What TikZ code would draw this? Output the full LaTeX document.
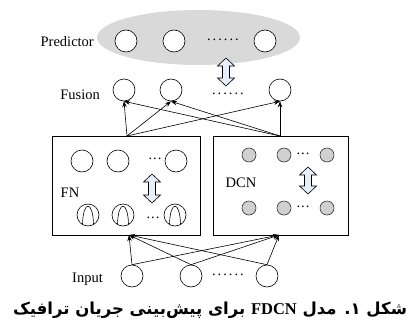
\documentclass[tikz,border=0pt]{standalone}
\usepackage{fontspec}
\setmainfont{Liberation Serif}
\newfontfamily\arabicfont[Script=Arabic]{DejaVu Sans}
\TeXXeTstate=1
\usetikzlibrary{arrows.meta}
\definecolor{ellgray}{HTML}{D9D9D9}
\definecolor{dotgray}{HTML}{D0D0D0}
\definecolor{arrblue}{HTML}{E6EFFA}
\tikzset{
  neuron/.style={circle,draw=black,line width=0.6pt,minimum size=22pt,inner sep=0pt,fill=white},
  smallneuron/.style={circle,draw=black!80,line width=0.6pt,minimum size=14pt,inner sep=0pt,fill=dotgray},
  lbl/.style={font=\fontsize{14.5}{16}\selectfont,inner sep=0pt},
  dotrow/.style={font=\fontsize{14.5}{16}\selectfont,inner sep=0pt},
  dblarrow/.style={draw=black,line width=0.6pt,fill=arrblue,line join=miter},
  conn/.style={line width=0.6pt,-{Stealth[length=6pt,width=4.5pt]}},
  box/.style={draw=black,line width=0.8pt},
}
\newcommand{\sixdots}{.\kern2pt.\kern2pt.\kern2pt.\kern2pt.\kern2pt.}
% vertical hollow double arrow: centre x, top y, bottom y
\newcommand{\vdblarrow}[3]{%
  \draw[dblarrow] (#1,#2) -- ++(8.5,8) -- ++(-5,0) -- (#1+3.5,#3-8) -- ++(5,0)
    -- (#1,#3) -- ++(-8.5,-8) -- ++(5,0) -- (#1-3.5,#2+8) -- ++(-5,0) -- cycle;}
\begin{document}
\begin{tikzpicture}[x=1pt,y=-1pt]
\useasboundingbox (0,0) rectangle (419,324);
% predictor ellipse
\fill[ellgray] (198.5,37.5) ellipse[x radius=101.5,y radius=27.5];
\node[lbl,anchor=east] (plab) at (94,42) {Predictor};
\node[neuron] (p1) at (126,41) {};
\node[neuron] (p2) at (174,41) {};
\node[dotrow] (pd) at (223,40) {\sixdots};
\node[neuron] (p3) at (265,41) {};
\vdblarrow{226}{58}{86}
% fusion
\node[lbl,anchor=east] (flab) at (100,95) {Fusion};
\node[neuron] (f1) at (124,90) {};
\node[neuron] (f2) at (171,90) {};
\node[dotrow] (fd) at (228,94) {\sixdots};
\node[neuron] (f3) at (280,90) {};
% boxes
\draw[box] (52,136) rectangle (200,235);
\draw[box] (213,136) rectangle (348,235);
\coordinate (fntop) at (127,136);
\coordinate (dcntop) at (280,136);
\coordinate (fnbot) at (129,235);
\coordinate (dcnbot) at (279,235);
% FN contents
\node[neuron] (n1) at (82,161) {};
\node[neuron] (n2) at (118,161) {};
\node[dotrow] (nd) at (155,159) {.\kern1pt.\kern1pt.};
\node[neuron] (n3) at (176,161) {};
\vdblarrow{152}{174}{203}
\node[lbl] (fnlab) at (70,193) {FN};
\foreach \nm/\xx in {b1/88,b2/123,b3/175}{
  \node[neuron] (\nm) at (\xx,215) {};
  \draw[line width=0.6pt] (\xx-5.5,224.5) .. controls (\xx-5,200) and (\xx+5,200) .. (\xx+5.5,224.5);
}
\node[dotrow] (bd) at (153,218) {.\kern1pt.\kern1pt.};
% DCN contents
\node[smallneuron] (d1) at (249,155) {};
\node[smallneuron] (d2) at (284,155) {};
\node[dotrow] (dd1) at (303,154) {.\kern1pt.\kern1pt.};
\node[smallneuron] (d3) at (327,155) {};
\node[smallneuron] (e1) at (249,208) {};
\node[smallneuron] (e2) at (284,208) {};
\node[dotrow] (dd2) at (303,207) {.\kern1pt.\kern1pt.};
\node[smallneuron] (e3) at (327,208) {};
\vdblarrow{308}{167}{194}
\node[lbl] (dcnlab) at (241,183) {DCN};
% fusion connections
\foreach \t in {f1,f2,f3}{
  \draw[conn] (fntop) -- (\t.south);
  \draw[conn] (dcntop) -- (\t.south);
}
% input
\node[lbl,anchor=east] (ilab) at (103,279) {Input};
\node[neuron] (i1) at (132,276) {};
\node[neuron] (i2) at (191,276) {};
\node[dotrow] (id) at (228,275) {\sixdots};
\node[neuron] (i3) at (267,276) {};
\foreach \s in {i1,i2,i3}{
  \draw[conn] (\s.north) -- (fnbot);
  \draw[conn] (\s.north) -- (dcnbot);
}
% caption
\node[font=\fontsize{16.5}{19}\selectfont\bfseries,inner sep=0pt] (cap) at (210,310)
  {\arabicfont\beginR شکل ۱. مدل \beginL{\fontspec{Liberation Serif}FDCN}\endL{} برای پیش‌بینی جریان ترافیک\endR};
\end{tikzpicture}
\end{document}
